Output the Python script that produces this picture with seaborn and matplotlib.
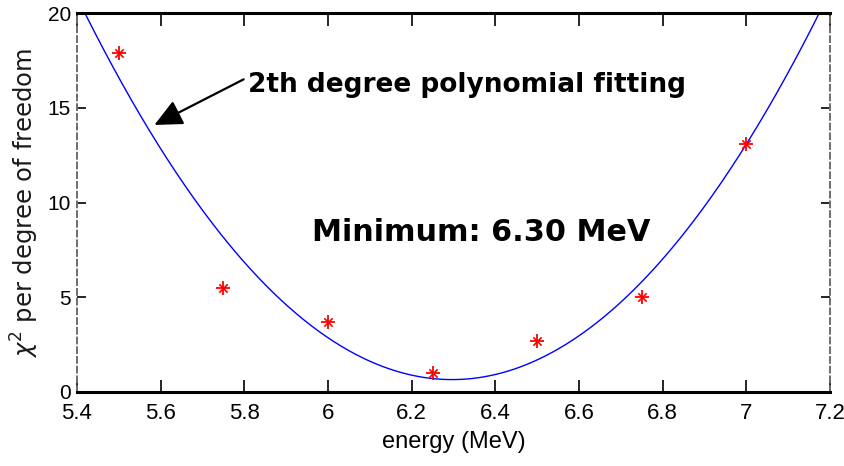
import numpy as np
import pandas as pd
import matplotlib
matplotlib.use("Agg")
import matplotlib.pyplot as plt
from matplotlib import font_manager
import seaborn as sns

# Measured chi-square per degree of freedom at each beam energy
energy = [5.50, 5.75, 6.00, 6.25, 6.50, 6.75, 7.00]
chi2 = [17.9, 5.5, 3.7, 1.0, 2.7, 5.0, 13.1]

x_ticks = [5.4, 5.6, 5.8, 6.0, 6.2, 6.4, 6.6, 6.8, 7.0, 7.2]
x_tick_labels = ["5.4", "5.6", "5.8", "6", "6.2", "6.4", "6.6", "6.8", "7", "7.2"]
y_ticks = [0, 5, 10, 15, 20]

sns.set_theme(style="white")


def pick_font(*names):
    available = {f.name for f in font_manager.fontManager.ttflist}
    for n in names:
        if n in available:
            return n
    return "DejaVu Sans"


narrow = pick_font("Liberation Sans Narrow", "Liberation Sans", "Arial")
plt.rcParams["font.family"] = [narrow, "DejaVu Sans"]

df = pd.DataFrame({"energy": energy, "chi2": chi2})

# Second-degree polynomial fit and its minimum
coef = np.polyfit(df["energy"], df["chi2"], 2)
x_min = -coef[1] / (2 * coef[0])
fit_x = np.linspace(x_ticks[0], x_ticks[-1], 500)
fit = pd.DataFrame({"energy": fit_x, "chi2": np.polyval(coef, fit_x)})

fig = plt.figure(figsize=(8.45, 4.66), dpi=100)
ax = fig.add_axes([0.0911, 0.1588, 0.8911, 0.8133])

sns.lineplot(data=fit, x="energy", y="chi2", ax=ax, color="#0000ff",
             linewidth=1.0, zorder=2)
sns.scatterplot(data=df, x="energy", y="chi2", ax=ax, marker="+", s=100,
                color="red", linewidth=1.3, zorder=3)
sns.scatterplot(data=df, x="energy", y="chi2", ax=ax, marker="x", s=36,
                color="red", linewidth=1.2, zorder=3)

ax.set_xlim(x_ticks[0], x_ticks[-1])
ax.set_ylim(y_ticks[0], y_ticks[-1])
ax.set_xticks(x_ticks)
ax.set_xticklabels(x_tick_labels)
ax.set_yticks(y_ticks)

ax.tick_params(axis="x", which="major", direction="in", length=9, width=1.2,
               color="black", labelsize=16, pad=8, top=True, bottom=True,
               labelcolor="black")
ax.tick_params(axis="y", which="major", direction="in", length=6.3, width=1.2,
               color="black", labelsize=15, pad=4.3, left=True, right=True,
               labelcolor="black")

for side in ("top", "bottom"):
    ax.spines[side].set_color("black")
    ax.spines[side].set_linewidth(2.2)
for side in ("left", "right"):
    ax.spines[side].set_color("#6e6e6e")
    ax.spines[side].set_linewidth(1.4)
    ax.spines[side].set_linestyle((0, (3, 2)))

ax.set_xlabel("energy (MeV)", fontsize=17, labelpad=5, color="black")
ax.set_ylabel(r"$\chi^2$ per degree of freedom", fontsize=17.5,
              family=["DejaVu Sans"], color="#1a1a1a", labelpad=5)

ax.text(5.809, 15.83, "2th degree polynomial fitting", fontsize=19,
        fontweight="bold", family=["DejaVu Sans"], ha="left",
        va="baseline", color="black")
ax.annotate("", xy=(5.585, 14.09), xytext=(5.7985, 16.50),
            arrowprops=dict(arrowstyle="-|>,head_length=0.85,head_width=0.4",
                            mutation_scale=20, color="black", lw=1.6,
                            shrinkA=0, shrinkB=0))
ax.text(5.961, 7.98, f"Minimum: {x_min:.2f} MeV", fontsize=21.8,
        fontweight="bold", family=["DejaVu Sans"], ha="left",
        va="baseline", color="black")

fig.savefig("out.png", dpi=100)
